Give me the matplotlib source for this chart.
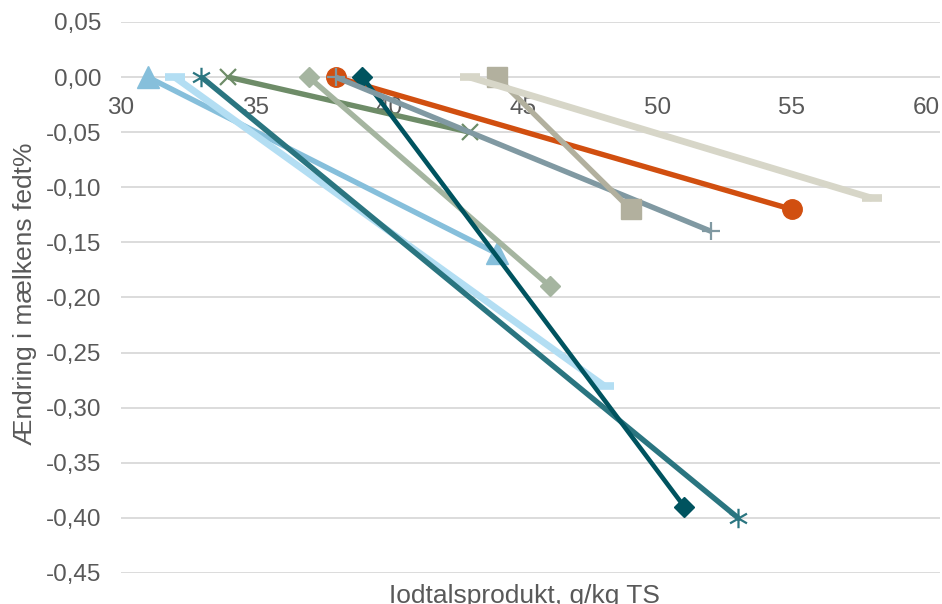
import matplotlib
matplotlib.use('Agg')
import matplotlib.pyplot as plt
from matplotlib.path import Path
from matplotlib.ticker import FuncFormatter

# Iodine product (g/kg TS) at start and end of each line, and change in milk fat %
iodine_start = [31, 32, 33, 34, 37, 38, 39, 38, 44, 43]
iodine_end = [44, 48, 53, 43, 46, 55, 51, 52, 49, 58]
fat_change_start = [0, 0, 0, 0, 0, 0, 0, 0, 0, 0]
fat_change_end = [-0.16, -0.28, -0.40, -0.05, -0.19, -0.12, -0.39, -0.14, -0.12, -0.11]

x_ticks = [30, 35, 40, 45, 50, 55, 60]
y_ticks = [0.05, 0.0, -0.05, -0.10, -0.15, -0.20, -0.25, -0.30, -0.35, -0.40, -0.45]

# asterisk marker: vertical stroke plus an x
star = Path([(0, -1), (0, 1), (-0.87, -0.5), (0.87, 0.5), (-0.87, 0.5), (0.87, -0.5)],
            [Path.MOVETO, Path.LINETO] * 3)

styles = [
    dict(color='#86BFDB', marker='^', ms=16, lw=3.9),
    dict(color='#B3DEF3', marker='_', ms=14, mew=5.5, lw=4.9),
    dict(color='#2A7580', marker=star, ms=14, mew=1.6, lw=3.9),
    dict(color='#6E8C68', marker='x', ms=11, mew=1.6, lw=3.9),
    dict(color='#A5B5A0', marker='D', ms=10, lw=3.9),
    dict(color='#D14F10', marker='o', ms=14, lw=3.9),
    dict(color='#00535F', marker='D', ms=10, lw=3.3),
    dict(color='#8099A2', marker='+', ms=13, mew=1.6, lw=3.9),
    dict(color='#B2B09E', marker='s', ms=14, lw=3.9),
    dict(color='#D7D6C8', marker='_', ms=14, mew=5.5, lw=4.9),
]

plt.rcParams['font.family'] = ['Liberation Sans', 'DejaVu Sans']

fig = plt.figure(figsize=(9.42, 6.04), dpi=100)
ax = fig.add_axes([121 / 942, 31 / 604, (940 - 121) / 942, (573 - 22) / 604])

for x0, x1, y0, y1, st in zip(iodine_start, iodine_end, fat_change_start, fat_change_end, styles):
    ax.plot([x0, x1], [y0, y1], color=st['color'], lw=st['lw'], marker=st['marker'],
            markersize=st['ms'], markeredgewidth=st.get('mew', 1),
            markeredgecolor=st['color'], markerfacecolor=st['color'],
            solid_capstyle='butt', clip_on=False)

ax.set_xlim(30, 30 + (940 - 121) / 26.83)
ax.set_ylim(-0.45, 0.05)
ax.set_xticks(x_ticks)
ax.set_yticks(y_ticks)

comma = FuncFormatter(lambda v, p: f'{v:.2f}'.replace('.', ',').replace('-0,00', '0,00'))
ax.yaxis.set_major_formatter(comma)
ax.xaxis.set_major_formatter(FuncFormatter(lambda v, p: f'{v:.0f}'))

for s in ax.spines.values():
    s.set_visible(False)
ax.spines['bottom'].set_position(('data', 0))

ax.grid(axis='y', color='#D9D9D9', lw=1.3)
ax.set_axisbelow(True)
ax.tick_params(axis='both', length=0, labelsize=17.5, labelcolor='#595959')
ax.tick_params(axis='y', pad=14)
ax.tick_params(axis='x', pad=14)

fig.text(25 / 942, 1 - 294 / 604, 'Ændring i mælkens fedt%', rotation=90,
         ha='center', va='center', fontsize=19, color='#595959')
fig.text(524 / 942, 1 - 584 / 604, 'Iodtalsprodukt, g/kg TS', ha='center', va='top',
         fontsize=19, color='#595959')

fig.savefig('out.png', dpi=100)
